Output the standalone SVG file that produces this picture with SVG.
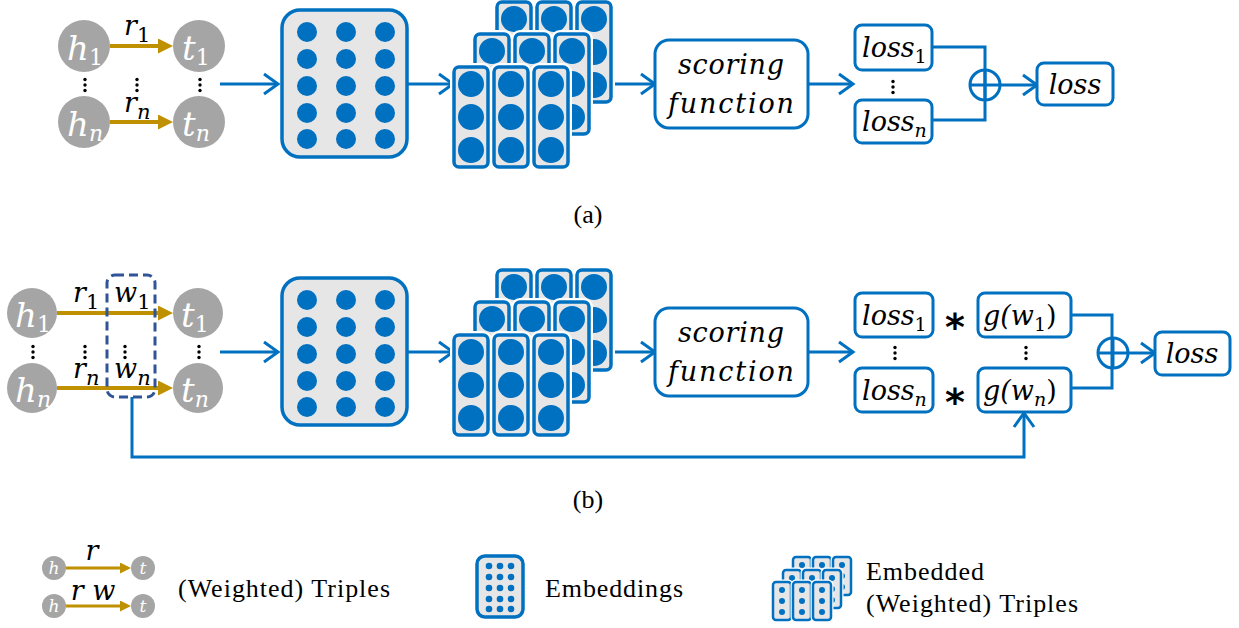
<svg xmlns="http://www.w3.org/2000/svg" width="1239" height="628" viewBox="0 0 1239 628">
<defs>
<style>
.bl{stroke:#0070C0;stroke-width:3;fill:none}
.box{fill:#fff;stroke:#0070C0;stroke-width:3}
.emb{fill:#E7E6E6;stroke:#0070C0;stroke-width:3.5}
.halo{fill:none;stroke:#fff;stroke-width:8}
.dot{fill:#0070C0}
.gold{stroke:#BF9000;stroke-width:4;fill:none}
.golds{stroke:#BF9000;stroke-width:3;fill:none}
.nd{fill:#A5A5A5}
.m{font-family:"DejaVu Serif",serif;font-style:italic;fill:#000;font-size:27px}
.cl{font-family:"DejaVu Serif",serif;font-style:italic;fill:#fff;font-size:34px}
.cls{font-family:"DejaVu Serif",serif;font-style:italic;fill:#fff;font-size:17px}
.t{font-family:"Liberation Serif",serif;fill:#000;font-size:26px}
.up{font-style:normal}
</style>
<marker id="chev" markerUnits="userSpaceOnUse" markerWidth="24" markerHeight="28" refX="17" refY="12" orient="auto"><path d="M3,2 L17,12 L3,22" fill="none" stroke="#0070C0" stroke-width="3"/></marker>
<marker id="tri" markerUnits="userSpaceOnUse" markerWidth="16" markerHeight="16" refX="7" refY="7.5" orient="auto"><path d="M0,0 L15,7.5 L0,15z" fill="#BF9000"/></marker>
<marker id="tris" markerUnits="userSpaceOnUse" markerWidth="12" markerHeight="12" refX="5" refY="5.5" orient="auto"><path d="M0,0 L11,5.5 L0,11z" fill="#BF9000"/></marker>
<g id="col">
<rect x="0" y="0" width="34" height="100" rx="5" class="halo"/>
<rect x="0" y="0" width="34" height="100" rx="5" class="emb" stroke-width="3"/>
<circle cx="17" cy="17" r="13" class="dot"/>
<circle cx="17" cy="50" r="13" class="dot"/>
<circle cx="17" cy="83" r="13" class="dot"/>
</g>
<g id="colS">
<rect x="0" y="0" width="18" height="38" rx="3" fill="none" stroke="#fff" stroke-width="5"/>
<rect x="0" y="0" width="18" height="38" rx="3" fill="#E7E6E6" stroke="#0070C0" stroke-width="2.5"/>
<circle cx="9" cy="8" r="3" class="dot"/>
<circle cx="9" cy="19" r="3" class="dot"/>
<circle cx="9" cy="30" r="3" class="dot"/>
</g>
<g id="embBox">
<rect x="0" y="0" width="125" height="147" rx="18" class="emb"/>
<g class="dot">
<circle cx="25" cy="22" r="10"/><circle cx="64" cy="22" r="10"/><circle cx="103" cy="22" r="10"/>
<circle cx="25" cy="49" r="10"/><circle cx="64" cy="49" r="10"/><circle cx="103" cy="49" r="10"/>
<circle cx="25" cy="76" r="10"/><circle cx="64" cy="76" r="10"/><circle cx="103" cy="76" r="10"/>
<circle cx="25" cy="103" r="10"/><circle cx="64" cy="103" r="10"/><circle cx="103" cy="103" r="10"/>
<circle cx="25" cy="129" r="10"/><circle cx="64" cy="129" r="10"/><circle cx="103" cy="129" r="10"/>
</g>
</g>
<g id="stack">
<use href="#col" x="497" y="2"/><use href="#col" x="537" y="2"/><use href="#col" x="577" y="2"/>
<use href="#col" x="475" y="34"/><use href="#col" x="515" y="34"/><use href="#col" x="555" y="34"/>
<use href="#col" x="454" y="67"/><use href="#col" x="494" y="67"/><use href="#col" x="534" y="67"/>
</g>
<g id="vd"><circle cx="0" cy="-5.5" r="1.7"/><circle cx="0" cy="0" r="1.7"/><circle cx="0" cy="5.5" r="1.7"/></g>
</defs>
<rect width="1239" height="628" fill="#fff"/>

<!-- connectors -->
<g id="connectors">
<line x1="110" y1="46" x2="165" y2="46" class="gold" marker-end="url(#tri)"/>
<line x1="110" y1="122" x2="165" y2="122" class="gold" marker-end="url(#tri)"/>
<line x1="220" y1="84" x2="278" y2="84" class="bl" marker-end="url(#chev)"/>
<line x1="407" y1="84" x2="453" y2="84" class="bl" marker-end="url(#chev)"/>
<line x1="611" y1="84" x2="655" y2="84" class="bl" marker-end="url(#chev)"/>
<line x1="808" y1="84" x2="853" y2="84" class="bl" marker-end="url(#chev)"/>
<path d="M932,47 H985 V120 H932" class="bl"/>
<line x1="1000" y1="85" x2="1037" y2="85" class="bl" marker-end="url(#chev)"/>

<line x1="57" y1="313" x2="165" y2="313" class="gold" marker-end="url(#tri)"/>
<line x1="57" y1="388" x2="165" y2="388" class="gold" marker-end="url(#tri)"/>
<line x1="220" y1="352" x2="278" y2="352" class="bl" marker-end="url(#chev)"/>
<line x1="407" y1="352" x2="453" y2="352" class="bl" marker-end="url(#chev)"/>
<line x1="611" y1="352" x2="655" y2="352" class="bl" marker-end="url(#chev)"/>
<line x1="808" y1="352" x2="853" y2="352" class="bl" marker-end="url(#chev)"/>
<path d="M1071,315 H1112 V388 H1071" class="bl"/>
<line x1="1128" y1="353" x2="1155" y2="353" class="bl" marker-end="url(#chev)"/>
<path d="M132,397 V457 H1024 V413" class="bl" marker-end="url(#chev)"/>

<line x1="66" y1="568" x2="125" y2="568" class="golds" marker-end="url(#tris)"/>
<line x1="66" y1="606" x2="125" y2="606" class="golds" marker-end="url(#tris)"/>
</g>

<!-- (a) -->
<g id="a-h1"><circle cx="84" cy="46" r="26" class="nd"/><text x="67" y="60" class="cl">h<tspan class="up" font-size="22" dy="5">1</tspan></text></g>
<g id="a-t1"><circle cx="199" cy="46" r="26" class="nd"/><text x="182" y="60" class="cl">t<tspan class="up" font-size="22" dy="5">1</tspan></text></g>
<g id="a-hn"><circle cx="84" cy="122" r="26" class="nd"/><text x="67" y="136" class="cl">h<tspan font-size="22" dy="5">n</tspan></text></g>
<g id="a-tn"><circle cx="199" cy="122" r="26" class="nd"/><text x="182" y="136" class="cl">t<tspan font-size="22" dy="5">n</tspan></text></g>
<g id="a-labels">
<text x="124" y="35" class="m" font-size="28">r<tspan class="up" font-size="21" dy="7">1</tspan></text>
<text x="124" y="112" class="m" font-size="28">r<tspan font-size="21" dy="7">n</tspan></text>
<use href="#vd" x="85" y="85"/><use href="#vd" x="137" y="85"/><use href="#vd" x="200" y="85"/>
</g>
<g id="a-emb"><use href="#embBox" x="282" y="10"/></g>
<g id="a-stack"><use href="#stack"/></g>
<g id="a-score"><rect x="655" y="40" width="153" height="88" rx="14" class="box"/>
<text x="731" y="74" class="m" font-size="28" text-anchor="middle" textLength="106">scoring</text>
<text x="731" y="113" class="m" font-size="28" text-anchor="middle" textLength="126">function</text></g>
<g id="a-loss1"><rect x="855" y="25" width="77" height="45" rx="7" class="box"/><text x="862" y="57" class="m">loss<tspan class="up" font-size="19" dy="6">1</tspan></text></g>
<g id="a-lossn"><rect x="855" y="100" width="77" height="43" rx="7" class="box"/><text x="862" y="131" class="m">loss<tspan font-size="19" dy="6">n</tspan></text></g>
<use href="#vd" x="893" y="87"/>
<g id="a-sum"><circle cx="985" cy="85" r="15" fill="#fff" class="bl"/><line x1="970" y1="85" x2="1000" y2="85" class="bl"/><line x1="985" y1="70" x2="985" y2="100" class="bl"/></g>
<g id="a-loss"><rect x="1037" y="63" width="76" height="42" rx="7" class="box"/><text x="1075" y="94" class="m" text-anchor="middle">loss</text></g>
<text x="588" y="223" class="t" font-size="24" text-anchor="middle">(a)</text>

<!-- (b) -->
<g id="b-h1"><circle cx="32" cy="313" r="25" class="nd"/><text x="15" y="327" class="cl">h<tspan class="up" font-size="22" dy="5">1</tspan></text></g>
<g id="b-t1"><circle cx="198" cy="313" r="25" class="nd"/><text x="181" y="327" class="cl">t<tspan class="up" font-size="22" dy="5">1</tspan></text></g>
<g id="b-hn"><circle cx="32" cy="388" r="25" class="nd"/><text x="15" y="402" class="cl">h<tspan font-size="22" dy="5">n</tspan></text></g>
<g id="b-tn"><circle cx="198" cy="388" r="25" class="nd"/><text x="181" y="402" class="cl">t<tspan font-size="22" dy="5">n</tspan></text></g>
<g id="b-labels">
<text x="73" y="302" class="m" font-size="28">r<tspan class="up" font-size="21" dy="7">1</tspan></text>
<text x="114" y="302" class="m" font-size="28">w<tspan class="up" font-size="21" dy="7">1</tspan></text>
<text x="73" y="378" class="m" font-size="28">r<tspan font-size="21" dy="7">n</tspan></text>
<text x="114" y="378" class="m" font-size="28">w<tspan font-size="21" dy="7">n</tspan></text>
<use href="#vd" x="33" y="352"/><use href="#vd" x="85" y="352"/><use href="#vd" x="125" y="352"/><use href="#vd" x="199" y="352"/>
</g>
<g id="b-weights"><rect x="107" y="275" width="48" height="122" rx="8" fill="none" stroke="#2F5597" stroke-width="3" stroke-dasharray="9,5"/></g>
<g id="b-emb"><use href="#embBox" x="282" y="278"/></g>
<g id="b-stack"><use href="#stack" y="268"/></g>
<g id="b-score"><rect x="655" y="308" width="153" height="88" rx="14" class="box"/>
<text x="731" y="342" class="m" font-size="28" text-anchor="middle" textLength="106">scoring</text>
<text x="731" y="381" class="m" font-size="28" text-anchor="middle" textLength="126">function</text></g>
<g id="b-loss1"><rect x="855" y="293" width="78" height="44" rx="7" class="box"/><text x="862" y="325" class="m">loss<tspan class="up" font-size="19" dy="6">1</tspan></text></g>
<g id="b-lossn"><rect x="855" y="368" width="78" height="44" rx="7" class="box"/><text x="862" y="400" class="m">loss<tspan font-size="19" dy="6">n</tspan></text></g>
<use href="#vd" x="895" y="353"/>
<text x="955" y="340" font-family="DejaVu Sans,sans-serif" font-weight="bold" font-size="38" text-anchor="middle">*</text>
<text x="955" y="415" font-family="DejaVu Sans,sans-serif" font-weight="bold" font-size="38" text-anchor="middle">*</text>
<g id="b-g1"><rect x="978" y="293" width="93" height="44" rx="7" class="box"/><text x="983" y="325" class="m">g(w<tspan class="up" font-size="19" dy="6">1</tspan><tspan class="up" dy="-6">)</tspan></text></g>
<g id="b-gn"><rect x="978" y="368" width="93" height="44" rx="7" class="box"/><text x="983" y="400" class="m">g(w<tspan font-size="19" dy="6">n</tspan><tspan class="up" dy="-6">)</tspan></text></g>
<use href="#vd" x="1026" y="353"/>
<g id="b-sum"><circle cx="1113" cy="353" r="15" fill="#fff" class="bl"/><line x1="1098" y1="353" x2="1128" y2="353" class="bl"/><line x1="1113" y1="338" x2="1113" y2="368" class="bl"/></g>
<g id="b-loss"><rect x="1155" y="332" width="75" height="43" rx="7" class="box"/><text x="1192" y="363" class="m" text-anchor="middle">loss</text></g>
<text x="588" y="508" class="t" font-size="24" text-anchor="middle">(b)</text>

<!-- legend -->
<g id="legend-triples">
<circle cx="54" cy="568" r="12" class="nd"/><text x="54" y="574" class="cls" text-anchor="middle">h</text>
<circle cx="143" cy="568" r="12" class="nd"/><text x="143" y="574" class="cls" text-anchor="middle">t</text>
<circle cx="54" cy="606" r="12" class="nd"/><text x="54" y="612" class="cls" text-anchor="middle">h</text>
<circle cx="143" cy="606" r="12" class="nd"/><text x="143" y="612" class="cls" text-anchor="middle">t</text>
<text x="92" y="560" class="m" font-size="21" text-anchor="middle">r</text>
<text x="93" y="600" class="m" font-size="21" text-anchor="middle">r w</text>
<text x="178" y="597" class="t" textLength="212">(Weighted) Triples</text>
</g>
<g id="legend-emb">
<rect x="477" y="556" width="46" height="61" rx="8" fill="#E7E6E6" stroke="#0070C0" stroke-width="3.5"/>
<g class="dot">
<circle cx="489" cy="566" r="3.3"/><circle cx="500" cy="566" r="3.3"/><circle cx="511" cy="566" r="3.3"/>
<circle cx="489" cy="577" r="3.3"/><circle cx="500" cy="577" r="3.3"/><circle cx="511" cy="577" r="3.3"/>
<circle cx="489" cy="588" r="3.3"/><circle cx="500" cy="588" r="3.3"/><circle cx="511" cy="588" r="3.3"/>
<circle cx="489" cy="599" r="3.3"/><circle cx="500" cy="599" r="3.3"/><circle cx="511" cy="599" r="3.3"/>
<circle cx="489" cy="609" r="3.3"/><circle cx="500" cy="609" r="3.3"/><circle cx="511" cy="609" r="3.3"/>
</g>
<text x="545" y="597" class="t" textLength="138">Embeddings</text>
</g>
<g id="legend-stack">
<use href="#colS" x="793" y="557"/><use href="#colS" x="813" y="557"/><use href="#colS" x="833" y="557"/>
<use href="#colS" x="783" y="570"/><use href="#colS" x="803" y="570"/><use href="#colS" x="823" y="570"/>
<use href="#colS" x="773" y="582"/><use href="#colS" x="793" y="582"/><use href="#colS" x="813" y="582"/>
<text x="866" y="580" class="t" textLength="118">Embedded</text>
<text x="866" y="612" class="t" textLength="212">(Weighted) Triples</text>
</g>
</svg>
